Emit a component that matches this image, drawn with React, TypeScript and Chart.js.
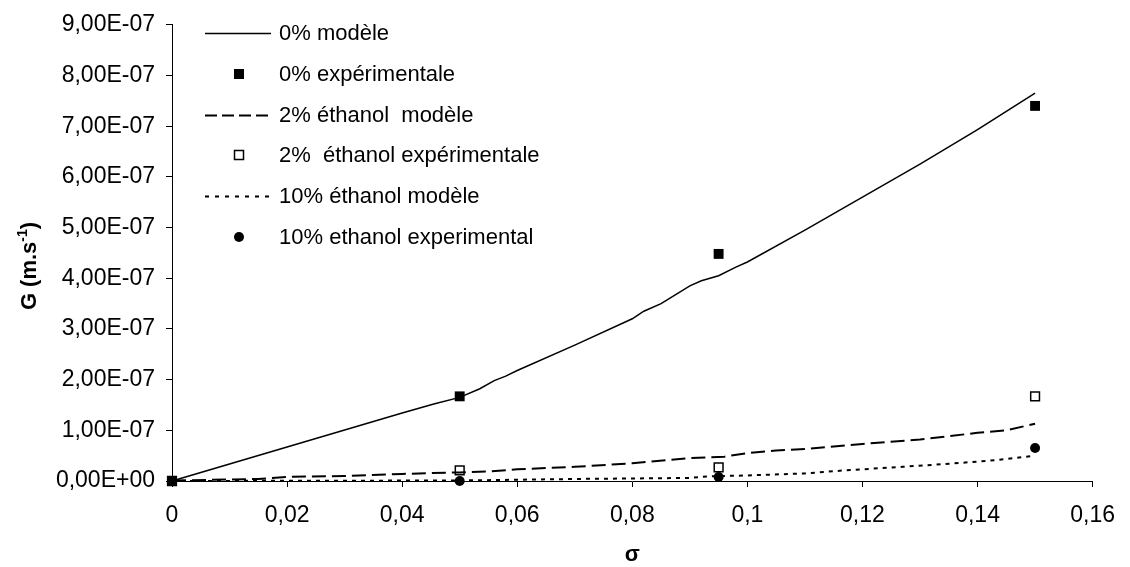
import React, { useEffect, useRef } from 'react';
import { Chart, registerables } from 'chart.js';

Chart.register(...registerables);

// ---- data ----
const model0X = [0, 0.02, 0.04, 0.0455, 0.05, 0.0535, 0.056, 0.058, 0.06, 0.07, 0.08, 0.082, 0.085, 0.09, 0.092, 0.095, 0.098, 0.1, 0.11, 0.12, 0.13, 0.14, 0.15];
const model0Y = [0, 6.7e-8, 1.34e-7, 1.52e-7, 1.65e-7, 1.82e-7, 1.98e-7, 2.07e-7, 2.18e-7, 2.68e-7, 3.2e-7, 3.35e-7, 3.5e-7, 3.85e-7, 3.95e-7, 4.05e-7, 4.22e-7, 4.32e-7, 4.95e-7, 5.6e-7, 6.25e-7, 6.93e-7, 7.65e-7];

const exp0X = [0, 0.05, 0.095, 0.15];
const exp0Y = [0, 1.67e-7, 4.48e-7, 7.4e-7];

const model2X = [0, 0.015, 0.02, 0.03, 0.04, 0.05, 0.055, 0.06, 0.07, 0.08, 0.09, 0.096, 0.1, 0.105, 0.11, 0.12, 0.13, 0.14, 0.145, 0.15];
const model2Y = [1e-9, 4e-9, 8e-9, 1e-8, 1.4e-8, 1.7e-8, 1.9e-8, 2.3e-8, 2.8e-8, 3.5e-8, 4.5e-8, 4.8e-8, 5.5e-8, 6e-8, 6.3e-8, 7.3e-8, 8.2e-8, 9.5e-8, 1e-7, 1.13e-7];

const exp2X = [0, 0.05, 0.095, 0.15];
const exp2Y = [0, 2.1e-8, 2.7e-8, 1.67e-7];

const model10X = [0, 0.05, 0.07, 0.09, 0.093, 0.1, 0.11, 0.117, 0.127, 0.135, 0.143, 0.15];
const model10Y = [0, 1e-9, 4e-9, 6e-9, 9e-9, 1.1e-8, 1.5e-8, 2.1e-8, 2.8e-8, 3.4e-8, 4.1e-8, 5e-8];

const exp10X = [0, 0.05, 0.095, 0.15];
const exp10Y = [0, 0, 8e-9, 6.5e-8];

const seriesLabels = [
  '0% modèle',
  '0% expérimentale',
  '2% éthanol  modèle',
  '2%  éthanol expérimentale',
  '10% éthanol modèle',
  '10% ethanol experimental',
];

const yTickLabels = ['0,00E+00', '1,00E-07', '2,00E-07', '3,00E-07', '4,00E-07', '5,00E-07', '6,00E-07', '7,00E-07', '8,00E-07', '9,00E-07'];
const xTickLabels = ['0', '0,02', '0,04', '0,06', '0,08', '0,1', '0,12', '0,14', '0,16'];

const xTitle = 'σ';
const yTitleMain = 'G (m.s';
const yTitleSup = '-1';
const yTitleEnd = ')';

const FONT = "'Liberation Sans', Arial, Helvetica, sans-serif";

const zip = (xs: number[], ys: number[]) => xs.map((x, i) => ({ x, y: ys[i] }));

const overlayPlugin = {
  id: 'overlay',
  afterDraw(chart: any) {
    const ctx = chart.ctx as CanvasRenderingContext2D;
    ctx.save();
    ctx.fillStyle = '#000';
    ctx.strokeStyle = '#000';

    // legend
    const rows = [33, 74, 115, 155, 196, 237];
    const lx0 = 205, lx1 = 271, mx = 239, tx = 279;
    ctx.font = `22px ${FONT}`;
    ctx.textBaseline = 'middle';
    ctx.textAlign = 'left';
    rows.forEach((ry, i) => {
      ctx.save();
      if (i === 0 || i === 2 || i === 4) {
        ctx.beginPath();
        ctx.lineWidth = i === 0 ? 1.3 : 2;
        ctx.setLineDash(i === 0 ? [] : i === 2 ? [12, 5] : [4, 6]);
        ctx.moveTo(lx0, ry + 0.5);
        ctx.lineTo(lx1, ry + 0.5);
        ctx.stroke();
      } else if (i === 1) {
        ctx.fillRect(mx - 5, ry - 5, 10, 10);
      } else if (i === 3) {
        ctx.lineWidth = 1.5;
        ctx.fillStyle = '#fff';
        ctx.fillRect(mx - 4.5, ry - 4.5, 9, 9);
        ctx.strokeRect(mx - 4.5, ry - 4.5, 9, 9);
      } else if (i === 5) {
        ctx.beginPath();
        ctx.arc(mx, ry, 5, 0, Math.PI * 2);
        ctx.fill();
      }
      ctx.restore();
      ctx.fillStyle = '#000';
      ctx.fillText(seriesLabels[i], tx, ry + 1);
    });

    // x title
    ctx.font = `bold 22px ${FONT}`;
    ctx.textAlign = 'center';
    ctx.textBaseline = 'alphabetic';
    const ca = chart.chartArea;
    ctx.fillText(xTitle, (ca.left + ca.right) / 2, 561);

    // y title with superscript
    ctx.save();
    ctx.translate(36, 266);
    ctx.rotate(-Math.PI / 2);
    ctx.textAlign = 'left';
    ctx.textBaseline = 'alphabetic';
    const mainFont = `bold 22px ${FONT}`;
    const supFont = `bold 14px ${FONT}`;
    ctx.font = mainFont;
    const w1 = ctx.measureText(yTitleMain).width;
    const w3 = ctx.measureText(yTitleEnd).width;
    ctx.font = supFont;
    const w2 = ctx.measureText(yTitleSup).width;
    const total = w1 + w2 + w3;
    let x = -total / 2;
    ctx.font = mainFont;
    ctx.fillText(yTitleMain, x, 0);
    x += w1;
    ctx.font = supFont;
    ctx.fillText(yTitleSup, x, -9);
    x += w2;
    ctx.font = mainFont;
    ctx.fillText(yTitleEnd, x, 0);
    ctx.restore();

    ctx.restore();
  },
};

export default function App() {
  const ref = useRef<HTMLCanvasElement | null>(null);

  useEffect(() => {
    if (!ref.current) return;
    const chart = new Chart(ref.current, {
      type: 'scatter',
      data: {
        datasets: [
          {
            label: seriesLabels[0],
            data: zip(model0X, model0Y),
            showLine: true,
            borderColor: '#000',
            borderWidth: 1.5,
            pointRadius: 0,
            tension: 0,
            clip: false,
          },
          {
            label: seriesLabels[1],
            data: zip(exp0X, exp0Y),
            showLine: false,
            pointStyle: 'rect',
            pointRadius: 7,
            pointBackgroundColor: '#000',
            pointBorderColor: '#000',
            pointBorderWidth: 0,
            clip: false,
          },
          {
            label: seriesLabels[2],
            data: zip(model2X, model2Y),
            showLine: true,
            borderColor: '#000',
            borderWidth: 2,
            borderDash: [14, 6],
            pointRadius: 0,
            tension: 0,
            clip: false,
          },
          {
            label: seriesLabels[3],
            data: zip(exp2X, exp2Y),
            showLine: false,
            pointStyle: 'rect',
            pointRadius: 6.2,
            pointBackgroundColor: '#fff',
            pointBorderColor: '#000',
            pointBorderWidth: 1.5,
            clip: false,
          },
          {
            label: seriesLabels[4],
            data: zip(model10X, model10Y),
            showLine: true,
            borderColor: '#000',
            borderWidth: 2,
            borderDash: [4, 5],
            pointRadius: 0,
            tension: 0,
            clip: false,
          },
          {
            label: seriesLabels[5],
            data: zip(exp10X, exp10Y),
            showLine: false,
            pointStyle: 'circle',
            pointRadius: 5,
            pointBackgroundColor: '#000',
            pointBorderColor: '#000',
            pointBorderWidth: 0,
            clip: false,
          },
        ],
      },
      options: {
        responsive: false,
        animation: false,
        layout: { padding: { left: 0, top: 21, right: 30, bottom: 0 } },
        plugins: {
          legend: { display: false },
          tooltip: { enabled: false },
          title: { display: false },
        },
        scales: {
          x: {
            type: 'linear',
            min: 0,
            max: 0.16,
            afterFit: (s: any) => {
              s.height = 86;
            },
            afterBuildTicks: (s: any) => {
              s.ticks = xTickLabels.map((_, i) => ({ value: i * 0.02 }));
            },
            ticks: {
              autoSkip: false,
              maxRotation: 0,
              padding: 15,
              color: '#000',
              font: { family: FONT, size: 23 },
              callback: (_v: any, i: number) => xTickLabels[i],
            },
            grid: { drawOnChartArea: false, drawTicks: true, tickLength: 6, color: '#000' },
            border: { display: true, color: '#000', width: 1 },
          },
          y: {
            type: 'linear',
            min: 0,
            max: 9e-7,
            afterFit: (s: any) => {
              s.width = 172;
            },
            afterBuildTicks: (s: any) => {
              s.ticks = yTickLabels.map((_, i) => ({ value: i * 1e-7 }));
            },
            ticks: {
              autoSkip: false,
              padding: 11,
              color: '#000',
              font: { family: FONT, size: 23 },
              callback: (_v: any, i: number) => yTickLabels[i],
            },
            grid: { drawOnChartArea: false, drawTicks: true, tickLength: 6, color: '#000' },
            border: { display: true, color: '#000', width: 1 },
          },
        },
      },
      plugins: [overlayPlugin],
    });
    return () => chart.destroy();
  }, []);

  return (
    <div style={{ position: 'fixed', left: 0, top: 0, width: 1130, height: 567, background: '#fff' }}>
      <canvas ref={ref} width={1130} height={567} style={{ width: 1130, height: 567, display: 'block' }} />
    </div>
  );
}
